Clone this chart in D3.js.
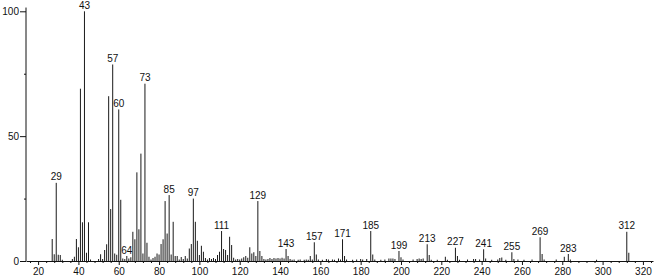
<!DOCTYPE html>
<html><head><meta charset="utf-8">
<script src="https://cdn.jsdelivr.net/npm/d3@7"></script>
<style>
html,body{margin:0;padding:0;background:#fff;}
svg{display:block;font-family:"Liberation Sans",Arial,sans-serif;}
</style></head>
<body><svg id="c" width="656" height="277"></svg>
<script>
// m/z values and relative intensities (%)
const mz = [27,28,29,30,31,32,37,38,39,40,41,42,43,44,45,46,50,51,52,53,54,55,56,57,58,59,60,61,62,63,64,65,66,67,68,69,70,71,72,73,74,75,76,77,78,79,80,81,82,83,84,85,86,87,88,89,90,91,92,93,94,95,96,97,98,99,100,101,102,103,104,105,106,107,108,109,110,111,112,113,114,115,116,117,118,119,120,121,122,123,124,125,126,127,128,129,130,131,132,133,134,135,136,137,138,139,140,141,142,143,144,145,146,147,149,150,152,153,154,155,156,157,158,159,161,163,164,166,167,169,170,171,172,173,176,178,180,181,183,185,186,187,190,192,194,195,196,197,199,200,201,206,208,209,210,211,213,214,215,218,222,223,227,228,229,233,236,237,239,241,242,245,248,249,250,252,255,256,258,261,265,269,270,271,277,281,283,284,297,312,313];
const intensity = [8.8,2.7,31.3,2.5,2.4,0.5,0.8,1.7,8.8,5.5,69,15.5,100,3.3,15.5,0.6,0.8,2.7,0.8,4.4,6.7,66,20.8,78.7,3,2.5,60.7,24.5,1.0,0.8,2,1.0,1.5,11.7,8.7,35.5,12.7,43,3,71,7.3,1.7,0.6,1.2,1.7,3,2.6,6.8,8.7,24,11,26.4,2.6,15.7,2,2,0.6,1.6,0.8,2,1,5,6.8,25,15.7,8.1,2.4,6.1,3.7,1.2,0.6,1.2,0.8,1.2,0.8,2.4,3.7,12,4.8,4.4,2.4,9.7,6.4,1.3,0.6,0.8,0.6,1.0,1.5,2,1.3,5.5,3,3.5,2,24,4,2,0.8,0.6,0.8,1.2,0.8,1.2,1,1.2,1,1.3,1,4.8,2,0.8,0.5,0.6,0.5,0.6,0.5,0.6,0.5,2,0.6,7.5,2.6,0.6,0.5,0.8,0.6,0.6,0.5,1,0.6,8.7,2,0.6,0.5,0.6,0.8,0.6,0.8,12,2.6,0.6,0.5,0.6,1,1,1,0.8,4,1.5,0.6,0.6,0.8,1,0.8,1,6.7,2.4,0.5,0.5,1.7,0.5,5.3,2,0.5,0.6,0.8,0.8,0.6,4.7,1,0.5,0.6,1.2,1.4,0.5,3.5,0.8,0.6,0.5,0.6,9.5,2.8,0.6,0.6,1.7,2.8,0.6,0.5,11.7,3.3];
// labelled peaks
const labelled = [29,43,57,60,64,73,85,97,111,129,143,157,171,185,199,213,227,241,255,269,283,312];
// axis ticks
const xMajor = [20,40,60,80,100,120,140,160,180,200,220,240,260,280,300,320];
const yMajor = [0,50,100];
const yMinor = [25,75];

const svg = d3.select("#c");
const x = d3.scaleLinear().domain([14, 325]).range([26, 653]);
const y = d3.scaleLinear().domain([0, 100]).range([261, 11.3]);

const peaks = mz.map((m, i) => ({m, v: intensity[i]}));
const byMz = new Map(peaks.map(p => [p.m, p.v]));

// bars
svg.append("g").selectAll("line").data(peaks).join("line")
  .attr("x1", d => x(d.m)).attr("x2", d => x(d.m))
  .attr("y1", y(0)).attr("y2", d => y(d.v))
  .attr("stroke", "#1a1a1a").attr("stroke-width", 1);

// x axis
const xMinor = d3.range(16, 325, 4).filter(v => v % 20 !== 0);
const gx = svg.append("g").attr("transform", `translate(0,${y(0)})`);
gx.call(d3.axisBottom(x).tickValues(xMajor).tickSize(4).tickSizeOuter(0).tickPadding(3).tickFormat(d3.format("d")));
gx.selectAll("text").attr("font-size", 10).attr("fill", "#111").attr("font-family", "Liberation Sans, Arial, sans-serif");
const gxm = svg.append("g").attr("transform", `translate(0,${y(0)})`);
gxm.call(d3.axisBottom(x).tickValues(xMinor).tickSize(2).tickSizeOuter(0).tickFormat(""));
gxm.select(".domain").remove();
svg.selectAll(".tick line").attr("stroke", "#111");
gx.select(".domain").attr("stroke", "#111");

// y axis
const gy = svg.append("g").attr("transform", `translate(${x(14)},0)`);
gy.call(d3.axisLeft(y).tickValues(yMajor).tickSize(6).tickSizeOuter(0).tickPadding(1));
gy.select(".domain").remove();
gy.selectAll("text").attr("font-size", 10).attr("fill", "#111").attr("font-family", "Liberation Sans, Arial, sans-serif");
const gym = svg.append("g").attr("transform", `translate(${x(14)},0)`);
gym.call(d3.axisLeft(y).tickValues(yMinor).tickSize(2).tickFormat(""));
gym.select(".domain").remove();
svg.append("line").attr("x1", x(14)).attr("x2", x(14)).attr("y1", y(0)).attr("y2", y(101.5)).attr("stroke", "#111");
svg.selectAll(".tick line").attr("stroke", "#111");

// peak labels
svg.append("g").selectAll("text").data(labelled).join("text")
  .attr("x", d => x(d)).attr("y", d => y(byMz.get(d)) - 2.5)
  .attr("text-anchor", "middle").attr("font-size", 10).attr("fill", "#111")
  .text(d => d);
</script></body></html>
